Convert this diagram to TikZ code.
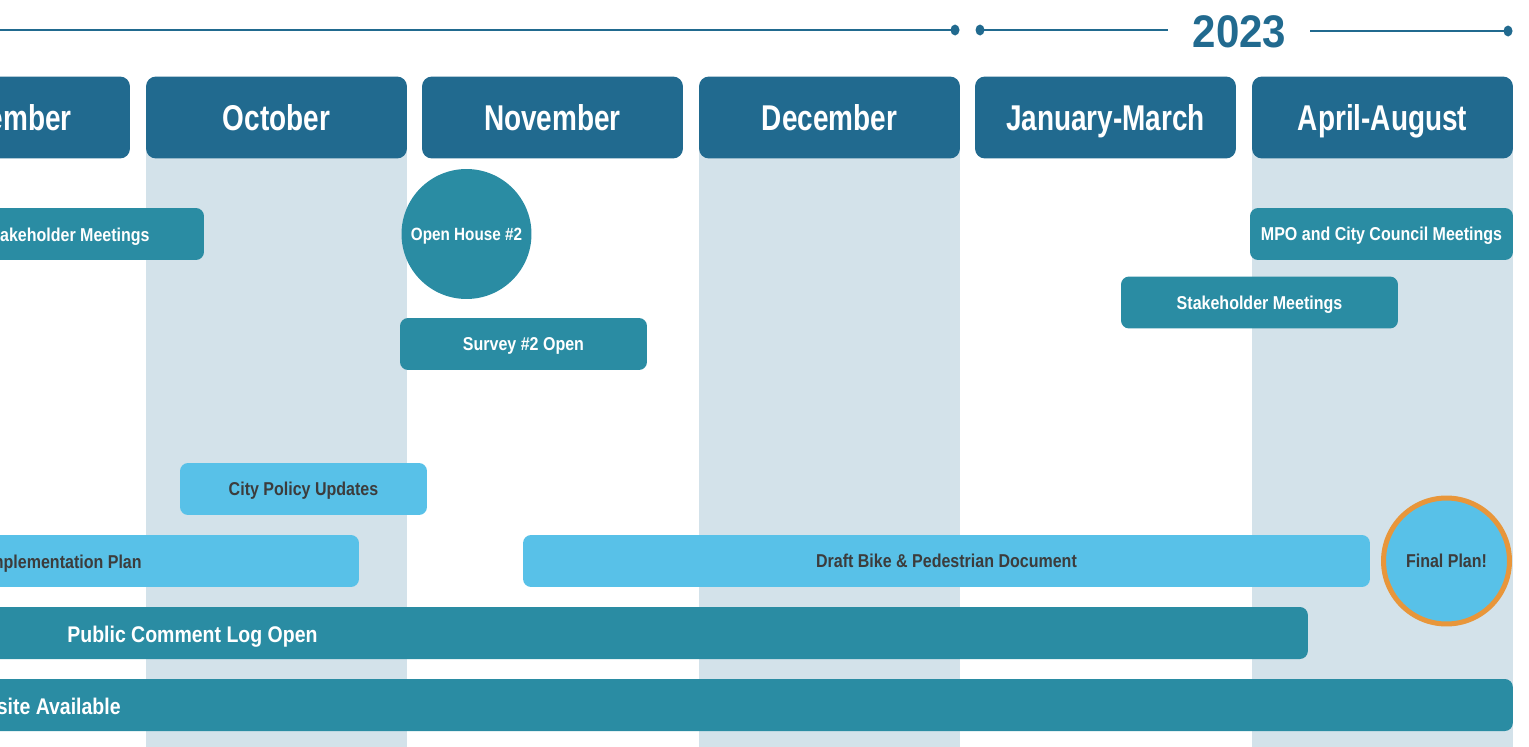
\documentclass[tikz,border=0pt]{standalone}
\usepackage{fontspec}
\setmainfont{Liberation Sans}[FakeStretch=0.86]
\newfontfamily\monthfont{Liberation Sans}[FakeStretch=0.78]
\newfontfamily\yearfont{Liberation Sans}[FakeStretch=0.92]
\usepackage{tikz}
\usetikzlibrary{positioning}
\definecolor{dk}{RGB}{33, 106, 143}
\definecolor{tl}{RGB}{42, 140, 163}
\definecolor{sky}{RGB}{88, 193, 232}
\definecolor{colband}{RGB}{211, 226, 234}
\definecolor{orng}{RGB}{232, 150, 58}
\definecolor{ink}{RGB}{60, 60, 60}

\begin{document}
\begin{tikzpicture}[x=0.02cm, y=-0.02cm]
    \tikzstyle{month}=[rectangle, rounded corners=0.2cm, fill=dk, text=white,
    minimum width=5.22cm, minimum height=1.64cm, text height=14.6pt, text depth=0pt,
    font=\monthfont\fontsize{20.4}{24}\selectfont\bfseries]
    \tikzstyle{bar}=[rectangle, rounded corners=0.16cm, minimum height=1.04cm,
    inner sep=0pt, text height=7.6pt, text depth=0pt, font=\fontsize{10.6}{13}\selectfont\bfseries]
    \tikzstyle{darkbar}=[bar, fill=tl, text=white]
    \tikzstyle{lightbar}=[bar, fill=sky, text=ink]
    \tikzstyle{bigtext}=[inner sep=0pt, text=white, text height=9.3pt, text depth=0pt,
    font=\fontsize{12.9}{16}\selectfont\bfseries]

    % Page size
    \useasboundingbox (0, 0) rectangle (1529, 747);
    \clip (0, 0) rectangle (1529, 747);

    % Shaded columns
    \fill [colband] (146, 150) rectangle (407, 747);
    \fill [colband] (699, 150) rectangle (960, 747);
    \fill [colband] (1252, 150) rectangle (1513, 747);

    % Time line
    \coordinate (t0) at (0, 30);
    \coordinate (t1) at (955, 30);
    \coordinate (t2) at (980, 30);
    \coordinate (t3) at (1168, 30);
    \coordinate (t4) at (1310, 31);
    \coordinate (t5) at (1508, 31);
    \draw [line width=0.06cm, color=dk] (t0) -- (t1);
    \draw [line width=0.06cm, color=dk] (t2) -- (t3);
    \draw [line width=0.06cm, color=dk] (t4) -- (t5);
    % Line ends
    \fill [dk] (t1) ellipse [x radius=4.5, y radius=5.5];
    \fill [dk] (t2) ellipse [x radius=4.5, y radius=5.5];
    \fill [dk] (t5) ellipse [x radius=4.5, y radius=5.5];
    % Year
    \node [text=dk, inner sep=0pt, text height=18.6pt, text depth=0pt,
    font=\yearfont\fontsize{26}{30}\selectfont\bfseries] (year) at (1239.5, 31.5) {2023};

    % Month headers
    \node [month] (sep) at (-0.5, 117.5) {September};
    \node [month] (oct) at (276.5, 117.5) {October};
    \node [month] (nov) at (552.5, 117.5) {November};
    \node [month] (dec) at (829.5, 117.5) {December};
    \node [month] (jan) at (1105.5, 117.5) {January-March};
    \node [month] (apr) at (1382.5, 117.5) {April-August};

    % Meetings
    \node [darkbar, minimum width=6.08cm] (stake1) at (52, 234) {};
    \node [bar, text=white, anchor=east] (stake1txt) at (150, 234.5) {Stakeholder Meetings};
    \node [darkbar, minimum width=5.26cm] (mpo) at (1381.5, 234) {MPO and City Council Meetings};
    \node [darkbar, minimum width=5.54cm] (stake2) at (1259.5, 302.5) {Stakeholder Meetings};

    % Open house and survey
    \node [circle, fill=tl, text=white, minimum size=2.6cm, inner sep=0pt,
    text height=7.2pt, text depth=0pt,
    font=\fontsize{10.1}{12}\selectfont\bfseries] (house) at (466.5, 234) {Open House \#2};
    \node [darkbar, minimum width=4.94cm] (survey) at (523.5, 344) {Survey \#2 Open};

    % Plans
    \node [lightbar, minimum width=4.94cm] (policy) at (303.5, 489) {City Policy Updates};
    \node [lightbar, minimum width=9.18cm] (impl) at (129.5, 561) {};
    \node [bar, text=ink, anchor=east] (impltxt) at (142, 561.5) {Implementation Plan};
    \node [lightbar, minimum width=16.94cm] (draft) at (946.5, 561) {Draft Bike \& Pedestrian Document};
    \node [circle, fill=sky, draw=orng, line width=0.1cm, text=ink, minimum size=2.52cm,
    inner sep=0pt, text height=7.6pt, text depth=0pt,
    font=\fontsize{10.6}{13}\selectfont\bfseries] (final) at (1446.5, 561) {Final Plan!};

    % Long bars
    \node [darkbar, minimum width=30.16cm] (log) at (554, 633) {};
    \node [bigtext, anchor=west] (logtxt) at (67, 634) {Public Comment Log Open};
    \node [darkbar, minimum width=34.26cm] (web) at (656.5, 705) {};
    \node [bigtext, anchor=east] (webtxt) at (121, 706) {Website Available};

\end{tikzpicture}
\end{document}
